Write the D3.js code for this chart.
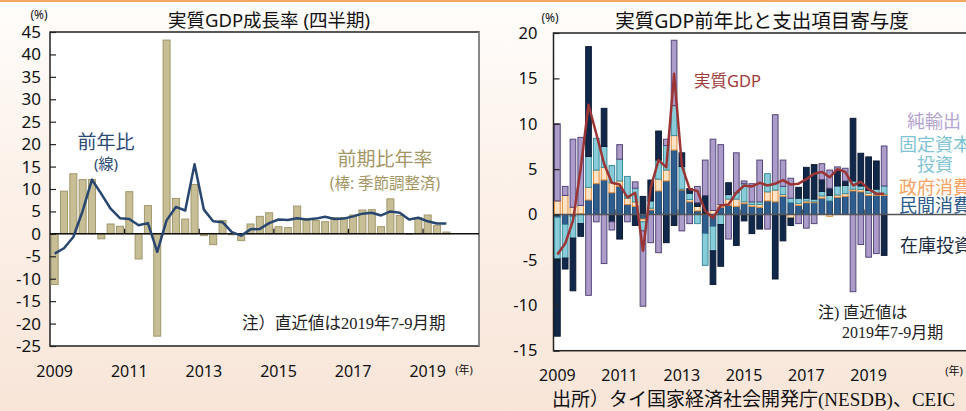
<!DOCTYPE html>
<html>
<head>
<meta charset="utf-8">
<script src="https://cdn.jsdelivr.net/npm/d3@7"></script>
<style>
  body { margin: 0; overflow: hidden; background: #fff; }
  text { font-family: "Noto Sans", "Noto Sans CJK JP", sans-serif; }
  .serif { font-family: "Liberation Serif", "Noto Sans CJK JP", serif; }
</style>
</head>
<body>
<script>

// quarters 2009Q1 .. 2019Q3
let quarters = ["2009Q1","2009Q2","2009Q3","2009Q4","2010Q1","2010Q2","2010Q3","2010Q4",
                "2011Q1","2011Q2","2011Q3","2011Q4","2012Q1","2012Q2","2012Q3","2012Q4",
                "2013Q1","2013Q2","2013Q3","2013Q4","2014Q1","2014Q2","2014Q3","2014Q4",
                "2015Q1","2015Q2","2015Q3","2015Q4","2016Q1","2016Q2","2016Q3","2016Q4",
                "2017Q1","2017Q2","2017Q3","2017Q4","2018Q1","2018Q2","2018Q3","2018Q4",
                "2019Q1","2019Q2","2019Q3"]
let yearLabels = ["2009", "2011", "2013", "2015", "2017", "2019"]
let leftTicks = [45, 40, 35, 30, 25, 20, 15, 10, 5, 0, -5, -10, -15, -20, -25]
let rightTicks = [20, 15, 10, 5, 0, -5, -10, -15]

// 前期比年率 (bars, left)
let qoqAnnualized = [-11.3, 9.5, 13.4, 12.1, 12.1, -1.1, 2.2, 1.7, 9.4, -5.6, 6.3, -22.8, 43.2, 7.9, 3.3, 11.0,
                     -0.4, -2.4, 3.0, -0.2, -1.5, 2.2, 3.9, 4.7, 1.6, 1.4, 6.2, 3.0, 3.0, 2.7, 3.6, 3.6,
                     4.2, 5.3, 5.4, 1.6, 7.8, 4.1, -0.1, 3.6, 4.2, 1.9, 0.4]

// 前年比 (line, both charts)
let yoyGrowth = [-4.4, -3.2, -0.7, 5.1, 12.1, 8.9, 5.6, 3.5, 3.3, 1.9, 2.4, -4.0, 3.0, 6.0, 5.2, 15.5,
                 5.4, 2.8, 2.6, 0.4, -0.4, 1.0, 1.1, 2.4, 3.2, 3.1, 3.5, 3.2, 3.4, 3.8, 3.3, 3.4,
                 3.9, 4.5, 4.7, 4.1, 5.0, 4.7, 3.2, 3.6, 2.8, 2.3, 2.3]

// contributions (right)
let privateConsumption = [-0.3, -1.1, -0.2, 0.1, 1.6, 3.4, 3.8, 2.4, 3.1, 1.1, 0.9, -0.5, 0.5, 2.6, 3.7, 7.1,
                          2.7, 1.4, 0.4, -2.1, -1.3, 0.8, 1.0, 0.9, 1.2, 0.9, 0.8, 1.5, 1.4, 2.0, 1.3, 1.0,
                          1.3, 1.3, 1.8, 1.5, 1.9, 2.0, 2.6, 2.5, 2.1, 2.1, 2.1]
let govConsumption = [1.5, 2.1, 0.8, 0.9, 1.4, 1.5, 1.4, 1.1, 0.6, 0.7, 0.5, -0.3, 0.2, 1.3, 1.2, 1.6,
                      0.1, 0.25, 0.5, 0.1, 0.45, 0.3, 0.7, 0.8, 0.2, 0.2, 0.3, 1.0, 1.3, 0.2, -0.4, 0.2,
                      0.2, 0.1, 0.25, -0.2, 0.25, 0.3, 0.2, 0.25, 0.25, 0.1, 0.15]
let fixedInvestment = [-4.6, -3.7, -2.4, -1.0, 3.4, 3.5, 2.3, 1.9, 2.4, 2.4, 1.5, -1.0, 0.8, 2.1, 2.7, 3.3,
                       2.5, 0.7, -1.0, -3.5, -2.7, -1.1, 0.5, 0.7, 2.0, 0.3, 0.3, 2.0, 0.7, 0.9, 0.5, 0.6,
                       0.3, 0.3, 0.5, 0.6, 1.0, 0.9, 0.9, 0.4, 0.3, 0.6, 0.9]
let inventories = [-8.5, -1.2, -5.8, -1.4, 12.1, 0, 4.2, -0.8, -2.7, 0, -1.2, 2.0, 2.3, 3.2, -3.1, -1.2,
                   1.5, 0.5, 0.4, 2.0, -3.7, -4.6, 1.3, -3.4, -0.7, -2.1, -1.6, 0, -7.1, -2.9, -0.8, 1.2,
                   3.4, 3.8, 1.3, 0.8, 1.7, 0.5, 6.9, 3.6, 3.7, 3.1, -4.5]
let netExports = [8.5, 1.0, 7.5, 7.5, -8.9, -0.8, -5.4, -0.9, 1.6, -0.8, 0.7, -8.3, -3.1, -4.2, 0.7, 7.2,
                  -1.8, -1.0, 1.8, 3.9, 7.85, 6.6, -2.7, 4.4, 0.3, 2.0, 4.6, -1.6, 7.6, 2.9, 2.2, -1.0,
                  -1.5, -1.0, 1.75, 2.0, 0.4, 1.4, -8.5, -3.3, -4.7, -4.3, 4.4]

let componentKeys = ["priv", "gov", "fixed", "inv", "nx"]
let componentFill = {priv: "#2e5d8f", gov: "#fde3c6", fixed: "#88ccda", inv: "#12284a", nx: "#ab9cc9"}
let componentStroke = {priv: "#1e3e63", gov: "#e08a3a", fixed: "#3d8a9a", inv: "#0b1a33", nx: "#55467a"}

let svg = d3.select("body").append("svg").attr("width", 966).attr("height", 411)

let defs = svg.append("defs")
let bg = defs.append("linearGradient").attr("id", "bg").attr("x1", 0).attr("y1", 0).attr("x2", 0).attr("y2", 1)
bg.append("stop").attr("offset", 0).attr("stop-color", "#fffdfb")
bg.append("stop").attr("offset", 0.45).attr("stop-color", "#fcf1e9")
bg.append("stop").attr("offset", 1).attr("stop-color", "#f8e5d8")

svg.append("rect").attr("width", 966).attr("height", 411).attr("fill", "url(#bg)")
svg.append("rect").attr("width", 966).attr("height", 2).attr("fill", "#f0a660")

// ---------- left chart ----------

let xL = d3.scaleBand().domain(d3.range(46)).range([50, 479]).paddingInner(0.25).paddingOuter(0.125)
let yL = d3.scaleLinear().domain([-25, 45]).range([346, 32])
let stepL = xL.step()

let left = svg.append("g")

left.append("rect")
    .attr("x", 50).attr("y", 32).attr("width", 429).attr("height", 314)
    .attr("fill", "#fff").attr("stroke", "#222").attr("stroke-width", 1.5)
left.append("line")
    .attr("x1", 479).attr("x2", 479).attr("y1", 32).attr("y2", 346)
    .attr("stroke", "#999").attr("stroke-width", 1.5)

left.selectAll(".qoq")
    .data(qoqAnnualized)
    .join("rect")
    .attr("class", "qoq")
    .attr("x", function(d, i) { return xL(i) })
    .attr("width", xL.bandwidth())
    .attr("y", function(d) { return yL(Math.max(0, d)) })
    .attr("height", function(d) { return Math.abs(yL(d) - yL(0)) })
    .attr("fill", "#c7be96")
    .attr("stroke", "#a0976a")
    .attr("stroke-width", 1)

left.append("line")
    .attr("x1", 50).attr("x2", 479).attr("y1", yL(0)).attr("y2", yL(0))
    .attr("stroke", "#111").attr("stroke-width", 1.5)

left.selectAll(".xtickL")
    .data([8, 16, 24, 32, 40])
    .join("line")
    .attr("x1", function(d) { return xL(d) - stepL * 0.125 })
    .attr("x2", function(d) { return xL(d) - stepL * 0.125 })
    .attr("y1", yL(0) - 5).attr("y2", yL(0))
    .attr("stroke", "#111").attr("stroke-width", 1.2)

left.append("path")
    .datum(yoyGrowth)
    .attr("fill", "none")
    .attr("stroke", "#284670")
    .attr("stroke-width", 2.5)
    .attr("stroke-linejoin", "round")
    .attr("d", d3.line()
                 .x(function(d, i) { return xL(i) + xL.bandwidth() / 2 })
                 .y(function(d) { return yL(d) }))

let axisL = left.append("g")
    .attr("transform", "translate(50,0)")
    .call(d3.axisLeft(yL).tickValues(leftTicks).tickSize(-6).tickPadding(9).tickFormat(function(d) { return String(d) }))
axisL.select(".domain").remove()
axisL.selectAll("line").attr("stroke", "#222").attr("stroke-width", 1.2)
axisL.selectAll("text").attr("font-size", 17).attr("fill", "#111")
     .style("font-family", "'Noto Sans', sans-serif")

left.selectAll(".yearL")
    .data(yearLabels)
    .join("text")
    .attr("x", function(d, i) { return xL(i * 8) + xL.bandwidth() / 2 })
    .attr("y", 377)
    .attr("text-anchor", "middle")
    .attr("font-size", 16)
    .attr("fill", "#111")
    .text(function(d) { return d })

left.append("text").attr("x", 464).attr("y", 374).attr("text-anchor", "middle")
    .attr("font-size", 11).attr("fill", "#111").text("(年)")
left.append("text").attr("x", 39).attr("y", 19).attr("text-anchor", "middle")
    .attr("font-size", 12).attr("fill", "#111").text("(%)")
left.append("text").attr("x", 269).attr("y", 27).attr("text-anchor", "middle")
    .attr("font-size", 18.5).attr("fill", "#111").text("実質GDP成長率 (四半期)")

left.append("text").attr("x", 106).attr("y", 149).attr("text-anchor", "middle")
    .attr("font-size", 19).attr("fill", "#2b4a74").text("前年比")
left.append("text").attr("x", 106).attr("y", 169).attr("text-anchor", "middle")
    .attr("font-size", 15).attr("fill", "#2b4a74").text("(線)")
left.append("text").attr("x", 385).attr("y", 166).attr("text-anchor", "middle")
    .attr("font-size", 19).attr("fill", "#a39664").text("前期比年率")
left.append("text").attr("x", 385).attr("y", 189).attr("text-anchor", "middle")
    .attr("font-size", 15.5).attr("fill", "#a39664").text("(棒: 季節調整済)")
left.append("text").attr("class", "serif").attr("x", 242).attr("y", 329)
    .attr("font-size", 16.5).attr("fill", "#222").text("注）直近値は2019年7-9月期")

// ---------- right chart ----------

let xR = d3.scaleBand().domain(d3.range(56)).range([553.5, 553.5 + 7.78 * 56]).paddingInner(0.27).paddingOuter(0.135)
let yR = d3.scaleLinear().domain([-15, 20]).range([350.7, 33])
let stepR = xR.step()

let rows = quarters.map(function(q, i) {
  return {i: i, priv: privateConsumption[i], gov: govConsumption[i], fixed: fixedInvestment[i],
          inv: inventories[i], nx: netExports[i]}
})
let stacked = d3.stack().keys(componentKeys).offset(d3.stackOffsetDiverging)(rows)

let right = svg.append("g")

right.append("rect")
    .attr("x", 553.5).attr("y", 33).attr("width", 440).attr("height", 350.7 - 33)
    .attr("fill", "#fff").attr("stroke", "#222").attr("stroke-width", 1.5)

right.selectAll(".layer")
    .data(stacked)
    .join("g")
    .attr("class", "layer")
    .attr("fill", function(s) { return componentFill[s.key] })
    .attr("stroke", function(s) { return componentStroke[s.key] })
    .attr("stroke-width", 1)
    .selectAll("rect")
    .data(function(s) { return s.filter(function(d) { return d[0] !== d[1] }) })
    .join("rect")
    .attr("x", function(d) { return xR(d.data.i) })
    .attr("width", xR.bandwidth())
    .attr("y", function(d) { return yR(Math.max(d[0], d[1])) })
    .attr("height", function(d) { return Math.abs(yR(d[0]) - yR(d[1])) })

right.append("line")
    .attr("x1", 553.5).attr("x2", 994).attr("y1", yR(0)).attr("y2", yR(0))
    .attr("stroke", "#555").attr("stroke-width", 1.5)

right.selectAll(".xtickR")
    .data([8, 16, 24, 32, 40, 48])
    .join("line")
    .attr("x1", function(d) { return xR(d) - stepR * 0.135 })
    .attr("x2", function(d) { return xR(d) - stepR * 0.135 })
    .attr("y1", yR(0) - 5).attr("y2", yR(0))
    .attr("stroke", "#555").attr("stroke-width", 1.2)

right.append("path")
    .datum(yoyGrowth)
    .attr("fill", "none")
    .attr("stroke", "#9b3535")
    .attr("stroke-width", 2.5)
    .attr("stroke-linejoin", "round")
    .attr("d", d3.line()
                 .x(function(d, i) { return xR(i) + xR.bandwidth() / 2 })
                 .y(function(d) { return yR(d) }))

let axisR = right.append("g")
    .attr("transform", "translate(553.5,0)")
    .call(d3.axisLeft(yR).tickValues(rightTicks).tickSize(-6).tickPadding(16).tickFormat(function(d) { return String(d) }))
axisR.select(".domain").remove()
axisR.selectAll("line").attr("stroke", "#222").attr("stroke-width", 1.2)
axisR.selectAll("text").attr("font-size", 16.5).attr("fill", "#111")
     .style("font-family", "'Noto Sans', sans-serif")

right.selectAll(".yearR")
    .data(yearLabels)
    .join("text")
    .attr("x", function(d, i) { return xR(i * 8) + xR.bandwidth() / 2 })
    .attr("y", 381)
    .attr("text-anchor", "middle")
    .attr("font-size", 16)
    .attr("fill", "#111")
    .text(function(d) { return d })

right.append("text").attr("x", 954).attr("y", 375).attr("text-anchor", "middle")
    .attr("font-size", 11).attr("fill", "#111").text("(年)")
right.append("text").attr("x", 550).attr("y", 22).attr("text-anchor", "middle")
    .attr("font-size", 12).attr("fill", "#111").text("(%)")
right.append("text").attr("x", 762).attr("y", 28).attr("text-anchor", "middle")
    .attr("font-size", 19.5).attr("fill", "#111").text("実質GDP前年比と支出項目寄与度")

right.append("text").attr("x", 694).attr("y", 87)
    .attr("font-size", 16.5).attr("fill", "#a03a3a").text("実質GDP")
right.append("text").attr("x", 907).attr("y", 128)
    .attr("font-size", 18).attr("fill", "#b3a3cf").text("純輸出")
right.append("text").attr("x", 899).attr("y", 151)
    .attr("font-size", 18).attr("fill", "#7fc4d4").text("固定資本")
right.append("text").attr("x", 935).attr("y", 171).attr("text-anchor", "middle")
    .attr("font-size", 18).attr("fill", "#7fc4d4").text("投資")
right.append("text").attr("x", 899).attr("y", 194)
    .attr("font-size", 18).attr("fill", "#f5a263").text("政府消費")
right.append("text").attr("x", 899).attr("y", 212)
    .attr("font-size", 18).attr("fill", "#2d5b8c").text("民間消費")
right.append("text").attr("x", 900).attr("y", 252)
    .attr("font-size", 18).attr("fill", "#1c2c42").text("在庫投資")

right.append("text").attr("class", "serif").attr("x", 818).attr("y", 318)
    .attr("font-size", 16).attr("fill", "#222").text("注) 直近値は")
right.append("text").attr("class", "serif").attr("x", 842).attr("y", 338)
    .attr("font-size", 16).attr("fill", "#222").text("2019年7-9月期")

svg.append("text").attr("class", "serif").attr("x", 552).attr("y", 406)
    .attr("font-size", 19).attr("fill", "#111").text("出所）タイ国家経済社会開発庁(NESDB)、CEIC")

</script>
</body>
</html>
